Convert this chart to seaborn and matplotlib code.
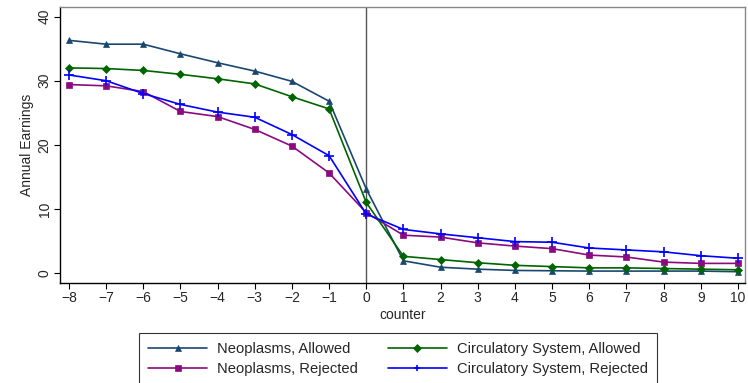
import matplotlib
matplotlib.use("Agg")
import matplotlib.pyplot as plt
import seaborn as sns
import pandas as pd

counter = list(range(-8, 11))
neo_allowed = [36.3, 35.7, 35.7, 34.2, 32.8, 31.5, 29.9, 26.8, 13.1,
               1.9, 0.9, 0.6, 0.4, 0.35, 0.3, 0.3, 0.3, 0.3, 0.2]
circ_allowed = [32.0, 31.9, 31.6, 31.0, 30.3, 29.5, 27.5, 25.6, 11.0,
                2.6, 2.1, 1.6, 1.2, 1.0, 0.8, 0.8, 0.7, 0.6, 0.5]
neo_rejected = [29.4, 29.2, 28.3, 25.2, 24.4, 22.4, 19.8, 15.6, 9.4,
                5.9, 5.6, 4.7, 4.2, 3.8, 2.8, 2.5, 1.7, 1.5, 1.5]
circ_rejected = [30.9, 30.0, 28.0, 26.3, 25.1, 24.3, 21.6, 18.3, 9.2,
                 6.8, 6.1, 5.5, 4.9, 4.8, 3.9, 3.6, 3.3, 2.7, 2.3]

series = [
    ("Neoplasms, Allowed", neo_allowed, "#1a476f", "^", 5),
    ("Neoplasms, Rejected", neo_rejected, "#8b0a7f", "s", 4.5),
    ("Circulatory System, Allowed", circ_allowed, "#006400", "D", 4.5),
    ("Circulatory System, Rejected", circ_rejected, "#0000ff", "+", 7),
]

FS = 10
LFS = 10.6

sns.set_style("white")
plt.rcParams["font.family"] = ["Liberation Sans", "DejaVu Sans"]
fig = plt.figure(figsize=(7.48, 3.83), dpi=100)
ax = fig.add_axes([60/748, 1-283/383, 685/748, 276/383])

for name, vals, col, mk, ms in series:
    df = pd.DataFrame({"counter": counter, "val": vals})
    sns.lineplot(data=df, x="counter", y="val", ax=ax, color=col, marker=mk,
                 markersize=ms, markeredgecolor=col, markeredgewidth=1.2 if mk == "+" else 0.5,
                 linewidth=1.2, label=name)

ax.axvline(0, color="#555555", linewidth=1.0, zorder=0)
ax.set_xlim(-8.24, 10.19)
ax.set_ylim(-1.56, 41.5)
ax.set_xticks(range(-8, 11))
ax.set_yticks([0, 10, 20, 30, 40])
ax.set_xticklabels([str(c).replace("-", "\u2212") for c in counter])
for lbl in ax.get_yticklabels():
    lbl.set_rotation(90)
    lbl.set_va("center")
ax.tick_params(axis="both", labelsize=FS, length=4, width=0.8, color="black", direction="out",
               bottom=True, left=True, pad=2)
ax.set_xlabel("counter", fontsize=FS, labelpad=2)
ax.set_ylabel("Annual Earnings", fontsize=FS, labelpad=3)
for s in ["left", "bottom"]:
    ax.spines[s].set_color("black")
    ax.spines[s].set_linewidth(1.0)
for s in ["top", "right"]:
    ax.spines[s].set_color("#888888")
    ax.spines[s].set_linewidth(1.0)

handles, labels = ax.get_legend_handles_labels()
leg = ax.legend(handles, labels, ncol=2,
                loc="upper center", bbox_to_anchor=((398-60)/685, -50/276),
                frameon=True, fancybox=False, edgecolor="black", fontsize=LFS,
                handlelength=4.0, handletextpad=0.7, numpoints=1, columnspacing=2.0,
                borderpad=0.6, labelspacing=0.45, borderaxespad=0)
leg.get_frame().set_linewidth(0.8)
for h in leg.legend_handles:
    h.set_markersize(4)

fig.savefig("out.png", dpi=100)
